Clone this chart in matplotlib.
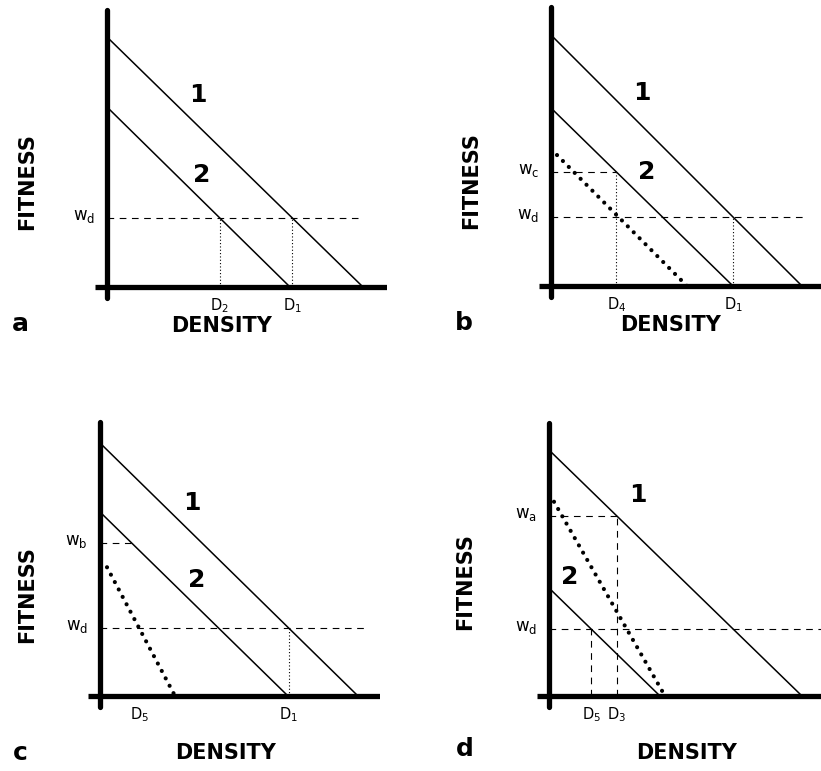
import matplotlib.pyplot as plt
import numpy as np

# values (pixel-like units, origin at the axes corner)
panels = ["a", "b", "c", "d"]
origins = {"a": (107, 287), "b": (551, 286), "c": (100, 696), "d": (549, 696)}

# (fitness intercept, density intercept) of lines 1 and 2
line1 = {"a": (250, 256), "b": (251, 251), "c": (253, 258), "d": (246, 253)}
line2 = {"a": (180, 183), "b": (178, 182), "c": (184, 188), "d": (108, 111)}

# dotted line: (start density, fitness intercept, density intercept)
dotted = {"b": (6, 137, 136), "c": (7, 142, 75), "d": (5, 203, 116)}

w_d = {"a": 69, "b": 69, "c": 68, "d": 67}
w_c = 114   # panel b
w_b = 153   # panel c
w_a = 180   # panel d

wd_end = {"a": 251, "b": 252, "c": 267, "d": 272}
axis_right = {"a": 280, "b": 270, "c": 285, "d": 272}

FIG_W, FIG_H = 821, 771


def dens_at(line, w):
    fi, di = line
    return di * (1 - w / fi)


def make_axes(fig, p):
    ox, oy = origins[p]
    ax = fig.add_axes([(ox - 30) / FIG_W, (FIG_H - oy - 30) / FIG_H,
                       310 / FIG_W, 320 / FIG_H])
    ax.set_xlim(-30, 280)
    ax.set_ylim(-30, 290)
    ax.axis("off")
    return ax


def base(ax, p, top=277, fit_xy=(-80, 105), dens_xy=(115, -39), let_xy=(-87, -37)):
    # thick axes
    ax.plot([0, 0], [-11, top], color="black", lw=3.8, solid_capstyle="round")
    ax.plot([-12, axis_right[p]], [0, 0], color="black", lw=3.8, solid_capstyle="butt")
    for ln in (line1[p], line2[p]):
        ax.plot([0, ln[1]], [ln[0], 0], color="black", lw=1.1)
    # labels
    ax.text(*fit_xy, "FITNESS", rotation=90, ha="center", va="center",
            fontsize=15, fontweight="bold")
    ax.text(*dens_xy, "DENSITY", ha="center", va="center",
            fontsize=15, fontweight="bold")
    ax.text(*let_xy, p, ha="center", va="center", fontsize=18, fontweight="bold")


def num(ax, x, y, s):
    ax.text(x, y, s, ha="center", va="center", fontsize=18, fontweight="bold")


def wlabel(ax, y, sub):
    ax.text(-12, y + 2, r"$\mathrm{w_{%s}}$" % sub, ha="right", va="center", fontsize=12)


def dlabel(ax, x, sub):
    ax.text(x, -19, r"$\mathrm{D_{%s}}$" % sub, ha="center", va="center", fontsize=10.5)


def hdash(ax, y, x1, x0=0):
    ax.plot([x0, x1], [y, y], color="black", lw=0.8, linestyle=(0, (6, 5)))


def vdot(ax, x, y):
    ax.plot([x, x], [0, y], color="black", lw=0.8, linestyle=(0, (1, 2)))


def vdash(ax, x, y):
    ax.plot([x, x], [0, y], color="black", lw=0.8, linestyle=(0, (6, 5)))


def thick_dots(ax, p):
    x0, fi, di = dotted[p]
    xs = np.array([x0, di])
    ys = fi * (1 - xs / di)
    ax.plot(xs, ys, color="black", lw=3.0, linestyle=(0, (0.01, 2.0)),
            dash_capstyle="round")


fig = plt.figure(figsize=(FIG_W / 100, FIG_H / 100), dpi=100)

# panel a
ax = make_axes(fig, "a")
base(ax, "a")
num(ax, 91, 192, "1")
num(ax, 95, 112, "2")
hdash(ax, w_d["a"], wd_end["a"])
d2 = dens_at(line2["a"], w_d["a"])
d1 = dens_at(line1["a"], w_d["a"])
vdot(ax, d2, w_d["a"])
vdot(ax, d1, w_d["a"])
wlabel(ax, w_d["a"], "d")
dlabel(ax, d2, "2")
dlabel(ax, d1, "1")

# panel b
ax = make_axes(fig, "b")
base(ax, "b", top=279, dens_xy=(120, -39))
num(ax, 91, 193, "1")
num(ax, 96, 114, "2")
thick_dots(ax, "b")
d4 = dens_at(line2["b"], w_c)
d1 = dens_at(line1["b"], w_d["b"])
hdash(ax, w_c, d4)
hdash(ax, w_d["b"], wd_end["b"])
vdot(ax, d4, w_c)
vdot(ax, d1, w_d["b"])
wlabel(ax, w_c, "c")
wlabel(ax, w_d["b"], "d")
dlabel(ax, d4, "4")
dlabel(ax, d1, "1")

# panel c
ax = make_axes(fig, "c")
base(ax, "c", top=274, fit_xy=(-73, 101), dens_xy=(126, -57), let_xy=(-80, -57))
num(ax, 92, 193, "1")
num(ax, 97, 116, "2")
thick_dots(ax, "c")
hdash(ax, w_b, dens_at(line2["c"], w_b))
hdash(ax, w_d["c"], wd_end["c"])
d1 = dens_at(line1["c"], w_d["c"])
d5 = dens_at(dotted["c"][1:], w_d["c"])
vdot(ax, d1, w_d["c"])
wlabel(ax, w_b, "b")
wlabel(ax, w_d["c"], "d")
dlabel(ax, d5, "5")
dlabel(ax, d1, "1")

# panel d
ax = make_axes(fig, "d")
base(ax, "d", top=273, fit_xy=(-84, 114), dens_xy=(138, -57), let_xy=(-84, -53))
num(ax, 89, 201, "1")
num(ax, 21, 119, "2")
thick_dots(ax, "d")
d3 = dens_at(line1["d"], w_a)
d5 = dens_at(line2["d"], w_d["d"])
hdash(ax, w_a, d3)
hdash(ax, w_d["d"], wd_end["d"])
vdash(ax, d3, w_a)
vdash(ax, d5, w_d["d"])
wlabel(ax, w_a, "a")
wlabel(ax, w_d["d"], "d")
dlabel(ax, d5, "5")
dlabel(ax, d3, "3")

plt.savefig("out.png", dpi=100)
